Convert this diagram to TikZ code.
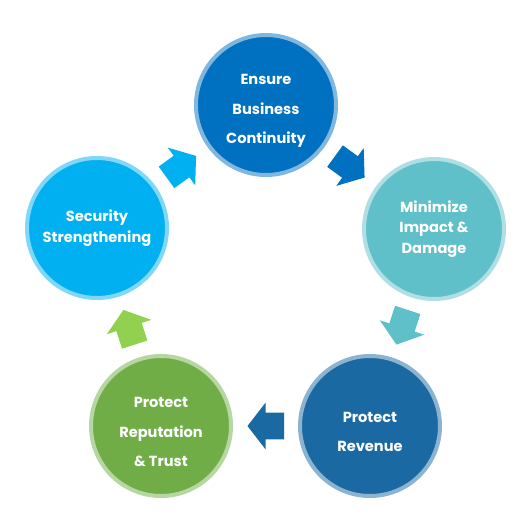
\documentclass[tikz,border=0pt]{standalone}
\usepackage{fontspec}
\setmainfont{Poppins}
\usetikzlibrary{calc}

\definecolor{ensureblue}{HTML}{0070C0}
\definecolor{minteal}{HTML}{5FC0CA}
\definecolor{revblue}{HTML}{1A69A2}
\definecolor{repgreen}{HTML}{70AD47}
\definecolor{arrowgreen}{HTML}{92D050}
\definecolor{secblue}{HTML}{00B0F0}

\tikzset{
  bubble/.style={circle,minimum size=140pt,inner sep=0pt,line width=4pt,
    fill=#1,draw=#1!50!white},
  tight/.style={text=white,align=center,font={\fontsize{14.6}{20.5}\selectfont\bfseries}},
  wide/.style={text=white,align=center,yshift=-6pt,
    font={\fontsize{14.6}{29.5}\selectfont\bfseries}},
  blockarrow/.pic={
    \fill (-18.5,-13.3) -- (0,-13.3) -- (0,-23.3) -- (18,0)
      -- (0,23.3) -- (0,13.3) -- (-18.5,13.3) -- cycle;
  }
}

\begin{document}
\begin{tikzpicture}[x=1pt,y=-1pt]
  \useasboundingbox (0,0) rectangle (531,531);

  % the five steps
  \node [bubble=ensureblue] (ensure)     at (266,105) {};
  \node [bubble=minteal]    (minimize)   at (434,229) {};
  \node [bubble=revblue]    (revenue)    at (370,426) {};
  \node [bubble=repgreen]   (reputation) at (161,426) {};
  \node [bubble=secblue]    (security)   at (97,228)  {};

  \node [wide]  (ensuretext)     at (ensure)     {Ensure\\Business\\Continuity};
  \node [tight] (minimizetext)   at (minimize)   {Minimize\\Impact \&\\Damage};
  \node [wide]  (revenuetext)    at (revenue)    {Protect\\Revenue};
  \node [wide]  (reputationtext) at (reputation) {Protect\\Reputation\\\& Trust};
  \node [tight] (securitytext)   at (security)   {Security\\Strengthening};

  % block arrows half way between the steps
  \foreach \from/\to/\ang/\col in {ensure/minimize/-36/ensureblue,
      minimize/revenue/-108/minteal, revenue/reputation/180/revblue,
      reputation/security/108/arrowgreen, security/ensure/36/secblue}
    \pic [color=\col,rotate=\ang] at ($(\from)!0.5!(\to)$) {blockarrow};

\end{tikzpicture}
\end{document}
